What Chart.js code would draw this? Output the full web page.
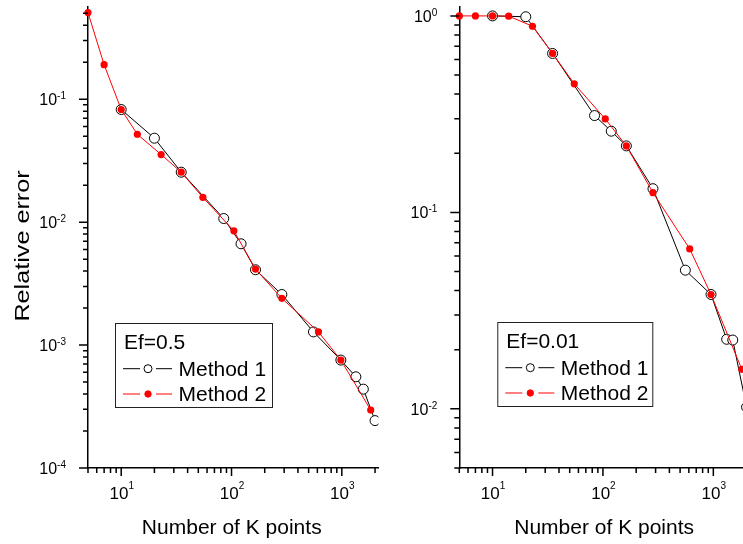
<!DOCTYPE html>
<html>
<head>
<meta charset="utf-8">
<script src="https://cdn.jsdelivr.net/npm/chart.js@4.4.0/dist/chart.umd.min.js"></script>
<style>
  html, body { margin: 0; padding: 0; background: #fff; overflow: hidden; }
  #wrap { position: relative; width: 743px; height: 544px; overflow: hidden; background: #fff; }
  canvas { position: absolute; top: 0; }
  #leftChart { left: 0; }
  #rightChart { left: 380px; }
</style>
</head>
<body>
<div id="wrap">
  <canvas id="leftChart" width="400" height="544"></canvas>
  <canvas id="rightChart" width="363" height="544"></canvas>
</div>
<script>
const seriesNames = ["Method 1", "Method 2"];
const panelTitles = ["Ef=0.5", "Ef=0.01"];
const xTitle = "Number of K points";
const yTitle = "Relative error";

// left panel (Ef=0.5)
const leftK1 = [10, 20, 35, 85, 122, 165, 286, 553, 980, 1340, 1567, 2000];
const leftErr1 = [0.0825, 0.0482, 0.0255, 0.0107, 0.00667, 0.0041, 0.00258, 0.00128, 0.000755, 0.000552, 0.000438, 0.000243];
const leftK2 = [5, 7, 10, 14, 23, 35, 55, 105, 165, 286, 614, 980, 1828];
const leftErr2 = [0.507, 0.191, 0.0825, 0.0519, 0.0355, 0.0255, 0.0159, 0.0085, 0.00415, 0.0024, 0.00128, 0.000755, 0.000296];

// right panel (Ef=0.01)
const rightK1 = [10, 20, 35, 84, 119, 163, 284, 558, 953, 1321, 1500, 2000];
const rightErr1 = [1.0, 0.99, 0.644, 0.311, 0.259, 0.218, 0.132, 0.0508, 0.0382, 0.0226, 0.0224, 0.0102];
const rightK2 = [5, 7, 10, 14, 23, 35, 55, 105, 163, 284, 611, 953, 1811];
const rightErr2 = [1.0, 1.0, 1.0, 0.997, 0.886, 0.644, 0.451, 0.299, 0.218, 0.126, 0.0652, 0.0382, 0.0159];

// tick labels (powers of ten)
const xTickExps = [1, 2, 3];
const leftYTickExps = [-1, -2, -3, -4];
const rightYTickExps = [0, -1, -2];

const FONT = "'Liberation Sans', Arial, Helvetica, sans-serif";

function pts(xs, ys) {
  return xs.map((x, i) => ({ x: x, y: ys[i] }));
}

function logTicks(min, max) {
  const out = [];
  for (let d = Math.floor(Math.log10(min)); d <= Math.ceil(Math.log10(max)); d++) {
    for (let m = 1; m <= 9; m++) {
      const v = m * Math.pow(10, d);
      if (v >= min * 0.9999 && v <= max * 1.0001) out.push({ v: v, major: m === 1 });
    }
  }
  return out;
}

// "10" with a raised exponent
function drawPow(ctx, x, y, exp, size, supSize, supRise, align) {
  ctx.font = size + "px " + FONT;
  const w1 = ctx.measureText("10").width;
  ctx.font = supSize + "px " + FONT;
  const w2 = ctx.measureText(String(exp)).width;
  let x0 = x;
  if (align === "center") x0 = x - (w1 + w2) / 2;
  if (align === "right") x0 = x - (w1 + w2);
  ctx.font = size + "px " + FONT;
  ctx.fillText("10", x0, y);
  ctx.font = supSize + "px " + FONT;
  ctx.fillText(String(exp), x0 + w1, y - supRise);
}

const decorPlugin = {
  id: "decor",
  afterDraw(chart, args, opts) {
    const ctx = chart.ctx;
    const xs = chart.scales.x, ys = chart.scales.y;
    const a = chart.chartArea;
    ctx.save();
    ctx.strokeStyle = "#000";
    ctx.fillStyle = "#000";
    ctx.lineWidth = 1.5;

    ctx.beginPath();
    logTicks(ys.min, ys.max).forEach(t => {
      const y = ys.getPixelForValue(t.v);
      ctx.moveTo(a.left - (t.major ? 9 : 5), y);
      ctx.lineTo(a.left, y);
    });
    logTicks(xs.min, xs.max).forEach(t => {
      const x = xs.getPixelForValue(t.v);
      ctx.moveTo(x, a.bottom);
      ctx.lineTo(x, a.bottom + (t.major ? 8 : 5));
    });
    ctx.stroke();

    ctx.textBaseline = "alphabetic";
    ctx.textAlign = "left";
    opts.yExps.forEach(e => {
      const y = ys.getPixelForValue(Math.pow(10, e));
      drawPow(ctx, a.left - 22, y + 5.8, e, 16, 10, 6, "right");
    });
    xTickExps.forEach(e => {
      const x = xs.getPixelForValue(Math.pow(10, e));
      drawPow(ctx, x + 0.5, a.bottom + 31, e, 17, 10, 10.5, "center");
    });

    ctx.font = "21px " + FONT;
    ctx.textAlign = "center";
    ctx.fillText(xTitle, (a.left + a.right) / 2 + opts.titleDx, a.bottom + 65.5);

    if (opts.showYTitle) {
      ctx.save();
      ctx.translate(a.left - 59.5, (a.top + a.bottom) / 2 + 8.5);
      ctx.rotate(-Math.PI / 2);
      ctx.scale(1.2, 1);
      ctx.fillText(yTitle, 0, 0);
      ctx.restore();
    }

    // legend box
    const lx = a.left + opts.legendDx, ly = opts.legendY;
    ctx.lineWidth = 1;
    ctx.strokeStyle = "#222";
    ctx.strokeRect(lx + 0.5, ly + 0.5, opts.legendW, 84);
    ctx.textAlign = "left";
    ctx.fillStyle = "#000";
    ctx.fillText(opts.title, lx + 9, ly + 25.7);
    const dsOrder = [1, 0];
    [45.7, 71].forEach((dy, i) => {
      const ds = chart.data.datasets[dsOrder[i]];
      const ry = ly + dy;
      ctx.strokeStyle = ds.borderColor;
      ctx.lineWidth = 1;
      ctx.beginPath();
      ctx.moveTo(lx + 8, ry); ctx.lineTo(lx + 25, ry);
      ctx.moveTo(lx + 41, ry); ctx.lineTo(lx + 57, ry);
      ctx.stroke();
      ctx.beginPath();
      ctx.arc(lx + 33, ry, i === 0 ? 4 : 3.2, 0, Math.PI * 2);
      ctx.fillStyle = ds.pointBackgroundColor;
      ctx.fill();
      ctx.strokeStyle = ds.pointBorderColor;
      ctx.stroke();
      ctx.fillStyle = "#000";
      ctx.fillText(ds.label, lx + 63.5, ry + 7);
    });
    ctx.restore();
  }
};

function makeChart(id, k1, e1, k2, e2, xMax, yMin, yMax, pad, clipRight, decor) {
  const clip = { left: 6, top: 6, right: clipRight, bottom: 0 };
  return new Chart(document.getElementById(id).getContext("2d"), {
    type: "scatter",
    data: {
      datasets: [
        {
          label: seriesNames[1],
          data: pts(k2, e2),
          showLine: true,
          borderColor: "#ff0000",
          borderWidth: 1,
          pointRadius: 3.6,
          pointBackgroundColor: "#ff0000",
          pointBorderColor: "#ff0000",
          pointBorderWidth: 0,
          clip: clip
        },
        {
          label: seriesNames[0],
          data: pts(k1, e1),
          showLine: true,
          borderColor: "#000000",
          borderWidth: 1,
          pointRadius: 5,
          pointBackgroundColor: "#ffffff",
          pointBorderColor: "#000000",
          pointBorderWidth: 1,
          clip: clip
        }
      ]
    },
    options: {
      responsive: false,
      animation: false,
      layout: { padding: pad, autoPadding: false },
      plugins: { legend: { display: false }, tooltip: { enabled: false }, decor: decor },
      scales: {
        x: {
          type: "logarithmic", min: 5, max: xMax,
          grid: { display: false, drawTicks: false },
          ticks: { display: false },
          border: { display: true, color: "#000", width: 1.5 }
        },
        y: {
          type: "logarithmic", min: yMin, max: yMax,
          grid: { display: false, drawTicks: false },
          ticks: { display: false },
          border: { display: true, color: "#000", width: 1.5 }
        }
      }
    },
    plugins: [decorPlugin]
  });
}

makeChart("leftChart", leftK1, leftErr1, leftK2, leftErr2, 2150, 1e-4, 0.563,
  { left: 88, right: 21.5, top: 7, bottom: 76 }, 0,
  { yExps: leftYTickExps, showYTitle: true, title: panelTitles[0], legendDx: 27, legendY: 323, legendW: 157, titleDx: -1.5 });

makeChart("rightChart", rightK1, rightErr1, rightK2, rightErr2, 1857, 0.005, 1.11,
  { left: 79.3, right: 0, top: 7, bottom: 76 }, 10,
  { yExps: rightYTickExps, showYTitle: false, title: panelTitles[1], legendDx: 38, legendY: 322, legendW: 155, titleDx: 3 });
</script>
</body>
</html>
